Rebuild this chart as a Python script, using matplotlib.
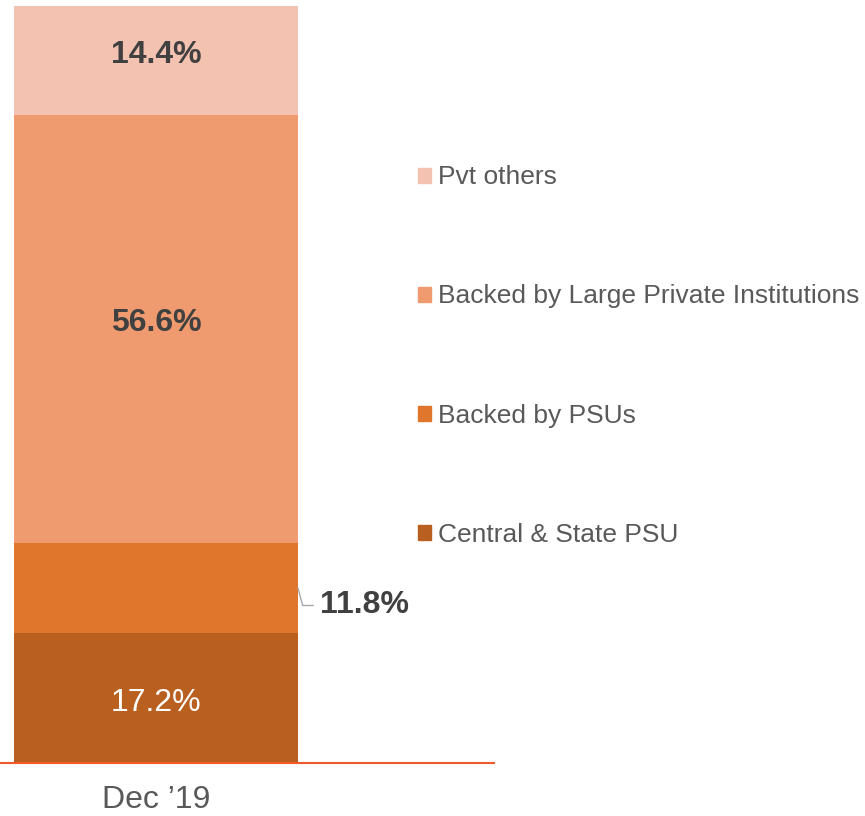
import matplotlib.pyplot as plt
from matplotlib.patches import Patch

plt.rcParams['font.family'] = ['Liberation Sans', 'DejaVu Sans']

category = "Dec \u201919"
series = ["Central & State PSU", "Backed by PSUs",
          "Backed by Large Private Institutions", "Pvt others"]
values = [17.2, 11.8, 56.6, 14.4]
colors = ["#B96021", "#E0762C", "#F09A6F", "#F4C2B0"]
label_styles = ["inside_white", "outside", "inside_bold", "inside_bold"]

fig = plt.figure(figsize=(8.65, 8.16), dpi=100)
ax = fig.add_axes([0, 1 - 763 / 816, 494 / 865, 757 / 816])

bottom = 0
for name, val, col, style in zip(series, values, colors, label_styles):
    ax.bar(0, val, width=1.0, bottom=bottom, color=col, label=name)
    mid = bottom + val / 2
    txt = f"{val:.1f}%"
    if style == "inside_white":
        ax.annotate(txt, xy=(0, mid), xytext=(0, -3.5), textcoords='offset points',
                    ha='center', va='center', fontsize=23, color='white')
    elif style == "inside_bold":
        ax.annotate(txt, xy=(0, mid), xytext=(0, 4.3), textcoords='offset points',
                    ha='center', va='center', fontsize=23, color='#404040',
                    fontweight='bold')
    else:
        ax.annotate(txt, xy=(0.5, mid), xytext=(16, -12.5), textcoords='offset points',
                    ha='left', va='center', fontsize=23, color='#404040',
                    fontweight='bold',
                    arrowprops=dict(arrowstyle='-', color='#A6A6A6', lw=1,
                                    shrinkA=3, shrinkB=0, relpos=(0, 0.5),
                                    connectionstyle='angle,angleA=180,angleB=105,rad=0'))
    bottom += val

left = -0.5 - 14 / 284
ax.set_xlim(left, left + 494 / 284)
ax.set_ylim(0, 100)
ax.set_xticks([0])
ax.set_xticklabels([category], fontsize=23, color='#595959')
ax.tick_params(axis='x', length=0, pad=16)
ax.set_yticks([])
for s in ['top', 'right', 'left']:
    ax.spines[s].set_visible(False)
ax.spines['bottom'].set_color('#F05A28')
ax.spines['bottom'].set_linewidth(1.5)

handles = [Patch(color=c) for c in colors[::-1]]
fig.legend(handles, series[::-1], loc='center left',
           bbox_to_anchor=(418 / 865, 1 - 356 / 816), frameon=False,
           fontsize=19, labelcolor='#595959', handlelength=0.5, handleheight=0.5,
           handletextpad=0.25, labelspacing=3.6, borderpad=0, borderaxespad=0)

fig.savefig("out.png", dpi=100)
